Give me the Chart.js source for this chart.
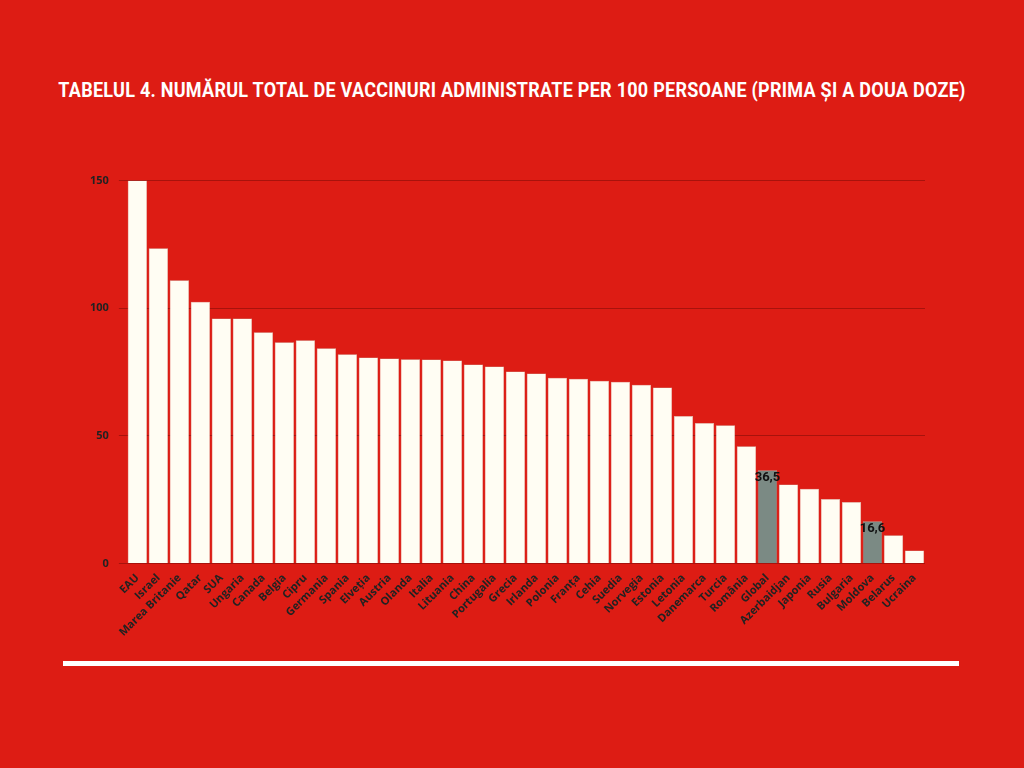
<!DOCTYPE html>
<html><head><meta charset="utf-8">
<script src="https://cdn.jsdelivr.net/npm/chart.js@4"></script>
<style>
body{margin:0;width:1024px;height:768px;background:#dd1c14;position:relative;overflow:hidden;font-family:Roboto,sans-serif}
#title{position:absolute;top:78px;left:0;width:1024px;text-align:center;color:#fff;font-weight:bold;font-size:20px;transform:scaleX(0.9);letter-spacing:0.3px;white-space:nowrap}
#wrap{position:absolute;left:80px;top:164px;width:845px;height:475px}
#line{position:absolute;left:63px;top:661px;width:896px;height:5px;background:#fff}
</style></head><body>
<div id="title">TABELUL 4. NUMĂRUL TOTAL DE VACCINURI ADMINISTRATE PER 100 PERSOANE (PRIMA ȘI A DOUA DOZE)</div>
<div id="wrap"><canvas id="c"></canvas></div>
<div id="line"></div>
<script>
const countries = ['EAU','Israel','Marea Britanie','Qatar','SUA','Ungaria','Canada','Belgia','Cipru','Germania','Spania','Elveția','Austria','Olanda','Italia','Lituania','China','Portugalia','Grecia','Irlanda','Polonia','Franța','Cehia','Suedia','Norvegia','Estonia','Letonia','Danemarca','Turcia','România','Global','Azerbaidjan','Japonia','Rusia','Bulgaria','Moldova','Belarus','Ucraina'];
const doses = [150,123.5,111,102.5,96,96,90.6,86.7,87.5,84.3,82,80.7,80.3,80,79.9,79.5,78,77.2,75.2,74.4,72.8,72.4,71.6,71.2,70,68.9,57.8,55,54.2,45.9,36.5,30.9,29.3,25.3,24.1,16.6,11.1,5.1];
const highlighted = ['Global','Moldova'];
const yTicks = [0,50,100,150];

const labelPlugin = {
    id: 'hlLabels',
    afterDatasetsDraw(chart) {
        const ctx = chart.ctx;
        const meta = chart.getDatasetMeta(0);
        ctx.save();
        ctx.font = 'bold 13px Roboto';
        ctx.fillStyle = '#111';
        ctx.textAlign = 'center';
        ctx.textBaseline = 'top';
        countries.forEach((c, i) => {
            if (highlighted.includes(c)) {
                const bar = meta.data[i];
                ctx.fillText(String(doses[i]).replace('.', ','), bar.x, bar.y + 1);
            }
        });
        ctx.restore();
    }
};

new Chart(document.getElementById('c'), {
    type: 'bar',
    data: {
        labels: countries,
        datasets: [{
            data: doses,
            backgroundColor: countries.map(c => highlighted.includes(c) ? '#7b8a84' : '#fffdf3'),
            borderColor: '#c9c3b5',
            borderWidth: 0.5,
            categoryPercentage: 0.92,
            barPercentage: 1
        }]
    },
    options: {
        responsive: true,
        maintainAspectRatio: false,
        animation: false,
        plugins: { legend: { display: false }, tooltip: { enabled: false } },
        scales: {
            x: {
                grid: { display: false },
                border: { display: false },
                ticks: { color: '#222', font: { weight: 'bold', size: 11, family: 'Open Sans' }, maxRotation: 45, minRotation: 45, autoSkip: false, padding: 0 }
            },
            y: {
                min: 0, max: 150,
                afterBuildTicks(axis) { axis.ticks = yTicks.map(v => ({ value: v })); },
                grid: { color: '#a8120c', lineWidth: 1 },
                border: { display: false },
                ticks: { color: '#222', font: { weight: 'bold', size: 11, family: 'Open Sans' }, padding: 10 }
            }
        }
    },
    plugins: [labelPlugin]
});
</script>
</body></html>
